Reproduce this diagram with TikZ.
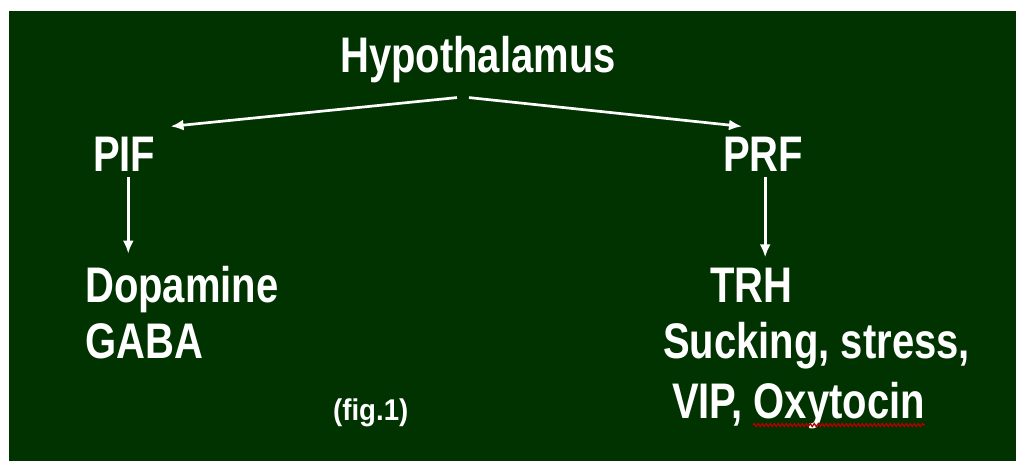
\documentclass[tikz,border=0pt]{standalone}
\usepackage{fontspec}
\setmainfont{Liberation Sans}
\usetikzlibrary{arrows.meta,decorations.pathmorphing}
\definecolor{boardgreen}{RGB}{0,51,0}
\begin{document}
\begin{tikzpicture}[
    x=1pt, y=-1pt,
    >={Latex[length=13pt,width=11pt]},
    font=\bfseries,
    txt/.style={text=white, inner sep=0pt, anchor=base west, xscale=0.8,
                font=\fontsize{50}{50}\selectfont\bfseries},
    small/.style={text=white, inner sep=0pt, anchor=base west, xscale=0.92,
                  font=\fontsize{30}{30}\selectfont\bfseries},
    line/.style={->, white, line width=2.7pt}
    ]

% slide background
\useasboundingbox (0,0) rectangle (1016,461);
\fill[white] (0,0) rectangle (1016,461);
\fill[boardgreen] (9,11) rectangle (1016,461);

% text (fixed coordinates)
\node[txt] (hypo) at (340,72)  {Hypothalamus};
\node[txt] (pif)  at (93,171)  {PIF};
\node[txt] (prf)  at (723,171) {PRF};
\node[txt] (dopa) at (85,302)  {Dopamine};
\node[txt] (gaba) at (85,358)  {GABA};
\node[txt] (trh)  at (710,302) {TRH};
\node[txt] (suck) at (663,358) {Sucking, stress,};
\node[txt] (vip)  at (672,418) {VIP, Oxytocin};
\node[small] (fig) at (333,420) {(fig.1)};

% arrows
\draw[line] ([xshift=-21pt,yshift=-15pt]hypo.south) -- ([xshift=15pt,yshift=10pt]pif.north east);
\draw[line] ([xshift=-9pt,yshift=-15pt]hypo.south) -- ([xshift=19pt,yshift=10pt]prf.north west);
\draw[line] ([xshift=4pt,yshift=-6pt]pif.south) -- ([xshift=4pt,yshift=12pt]pif.south |- dopa.north);
\draw[line] ([xshift=2pt,yshift=-6pt]prf.south) -- ([xshift=2pt,yshift=10pt]prf.south |- trh.north);

% spell-check underline
\draw[red!70!black, line width=1.3pt, decorate, decoration={snake, amplitude=1.5pt, segment length=4pt}]
    ([xshift=-172pt,yshift=-7pt]vip.base east) -- ([yshift=-7pt]vip.base east);

\end{tikzpicture}
\end{document}
